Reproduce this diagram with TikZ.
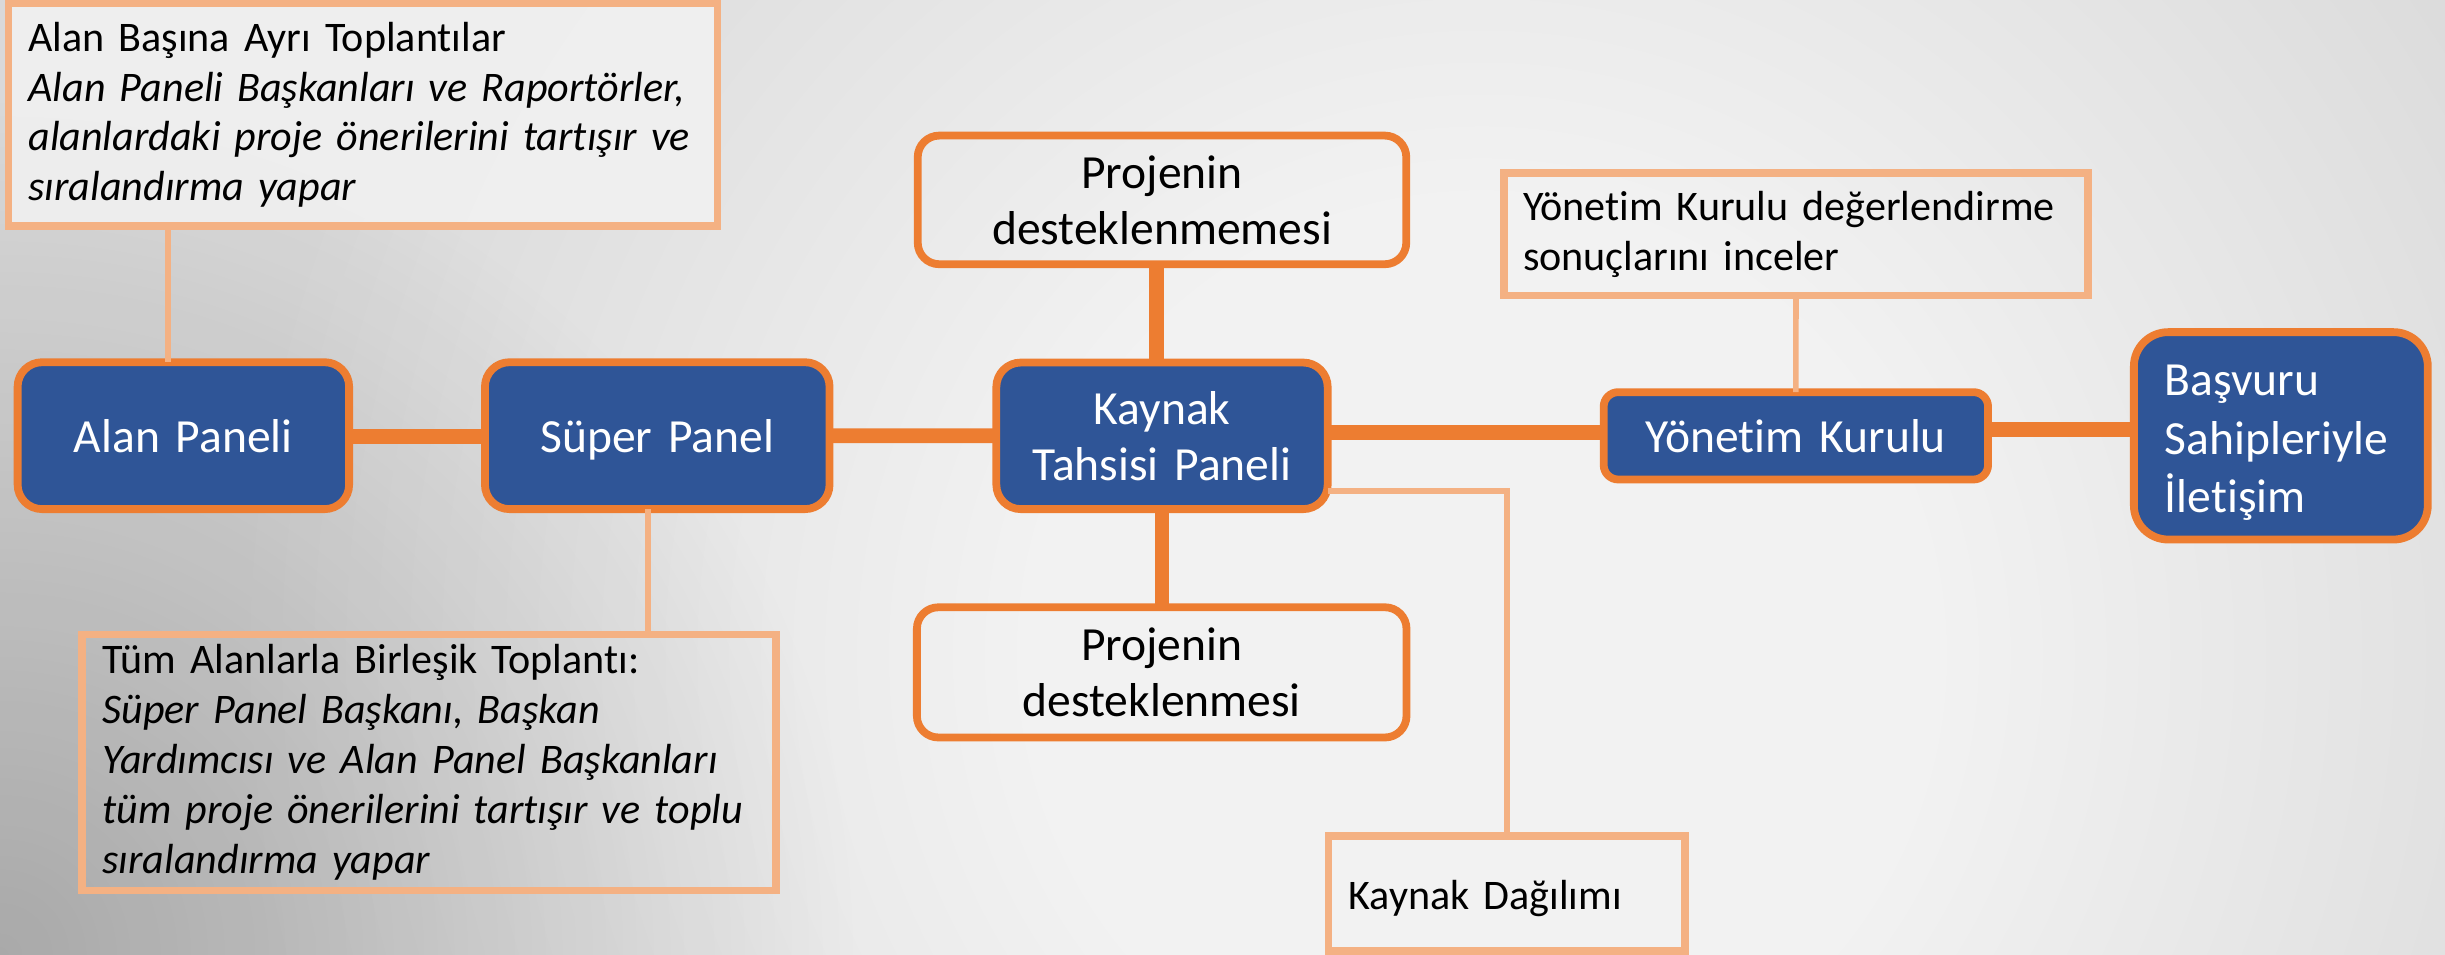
\documentclass[tikz,border=0pt]{standalone}
\usepackage{fontspec}
\setmainfont{Carlito}[Ligatures=CommonOff]
\usetikzlibrary{fadings}
\definecolor{nblue}{HTML}{2F5597}
\definecolor{norange}{HTML}{ED7D31}
\definecolor{lorange}{HTML}{F4B183}
\definecolor{bgin}{HTML}{F2F2F2}
\definecolor{bgout}{HTML}{D9D9D9}
\pgfdeclareradialshading{bgrad}{\pgfpointorigin}{color(0bp)=(bgin); color(9bp)=(bgin); color(25bp)=(bgout); color(50bp)=(bgout)}
\tikzfading[name=cornerfade, inner color=transparent!0, outer color=transparent!100]
\begin{document}
\begin{tikzpicture}[x=1pt,y=-1pt,
  bluebox/.style={draw=norange, line width=5pt, fill=nblue, text=white,
    font=\fontsize{30.5}{36}\selectfont, align=center, inner xsep=5pt, inner ysep=0pt, outer sep=0pt},
  whitebox/.style={draw=norange, line width=5pt, text=black,
    font=\fontsize{30.5}{36}\selectfont, align=center, inner xsep=5pt, inner ysep=0pt, outer sep=0pt},
  notebox/.style={draw=lorange, line width=4.8pt, text=black,
    font=\fontsize{27}{32}\selectfont, align=left, inner ysep=0pt, outer sep=0pt},
  oneline/.style={text height=21pt, text depth=0pt},
  thickline/.style={draw=norange, line width=9.4pt},
  thinline/.style={draw=lorange, line width=3.6pt}]

\useasboundingbox (0,0) rectangle (1568,612.4);
\begin{scope}
  \clip (0,0) rectangle (1568,612.4);
  \fill[bgout] (0,0) rectangle (1568,612.4);
  \shade[shading=bgrad] (950,420) circle [radius=800pt];
  \fill[black, fill opacity=0.22, path fading=cornerfade] (0,612.4) circle [radius=550pt];
\end{scope}

% annotation boxes
\node[notebox, fill=bgin, fill opacity=0.85, text opacity=1, inner xsep=12.9pt, text width=428.9pt, minimum width=454.7pt, minimum height=142.8pt]
  (tl) at (232.65,73.6) {\mbox{Alan Başına Ayrı Toplantılar}\\ \itshape \mbox{Alan Paneli Başkanları ve Raportörler,}\\ \mbox{alanlardaki proje önerilerini tartışır ve}\\ \mbox{sıralandırma yapar}};
\node[notebox, inner xsep=13.1pt, text width=418.7pt, minimum width=444.9pt, minimum height=164pt]
  (bl) at (275.05,489) {\mbox{Tüm Alanlarla Birleşik Toplantı:}\\ \itshape \mbox{Süper Panel Başkanı, Başkan}\\ \mbox{Yardımcısı ve Alan Panel Başkanları}\\ \mbox{tüm proje önerilerini tartışır ve toplu}\\ \mbox{sıralandırma yapar}};
\node[notebox, inner xsep=12.2pt, text width=350.1pt, minimum width=374.5pt, minimum height=78.5pt]
  (yk) at (1151.75,150.25) {\mbox{Yönetim Kurulu değerlendirme}\\ \mbox{sonuçlarını inceler}};
\node[notebox, oneline, inner xsep=12.8pt, text width=202.9pt, minimum width=228.5pt, minimum height=74pt]
  (kd) at (966.25,573) {Kaynak Dağılımı};

% main boxes
\node[bluebox, oneline, rounded corners=15.7pt, text width=202pt, minimum width=212.6pt, minimum height=94.2pt]
  (alan) at (117.6,279.4) {Alan Paneli};
\node[bluebox, oneline, rounded corners=15.7pt, text width=211pt, minimum width=221pt, minimum height=94.2pt]
  (super) at (421.5,279.4) {Süper Panel};
\node[bluebox, rounded corners=15.7pt, text width=202.5pt, minimum width=212.5pt, minimum height=94pt]
  (kaynak) at (745.2,279.5) {Kaynak\\Tahsisi Paneli};
\node[whitebox, rounded corners=13.8pt, text width=303.3pt, minimum width=313.3pt, minimum height=82.5pt]
  (proj1) at (745.2,128.2) {Projenin\\desteklenmemesi};
\node[whitebox, rounded corners=13.8pt, text width=304pt, minimum width=314pt, minimum height=83.5pt]
  (proj2) at (745,431.2) {Projenin\\desteklenmesi};
\node[bluebox, oneline, rounded corners=9.3pt, text width=236.5pt, minimum width=246.5pt, minimum height=56pt]
  (yon) at (1151.7,279.5) {Yönetim Kurulu};
\node[bluebox, align=left, font=\fontsize{30.5}{37.5}\selectfont, inner xsep=19.9pt, rounded corners=22pt, text width=148.7pt, minimum width=188.5pt, minimum height=133pt]
  (bas) at (1462.7,279.5) {\rule{0pt}{28.7pt}Başvuru\\Sahipleriyle\\İletişim};

% thick connectors
\draw[thickline] ([yshift=-0.6pt]alan.east) -- ([yshift=-0.6pt]super.west);
\draw[thickline] (super.east) -- (kaynak.west);
\draw[thickline] ([yshift=2pt]kaynak.east) -- ([yshift=2pt]yon.west);
\draw[thickline] ([yshift=4.2pt]yon.east) -- ([yshift=4.2pt]bas.west);
\draw[thickline] ([xshift=-3.7pt]proj1.south) -- ([xshift=-3.7pt]proj1.south |- kaynak.north);
\draw[thickline] (kaynak.south) -- (kaynak.south |- proj2.north);

% thin connectors
\coordinate (tlx) at (107.6,0);
\coordinate (blx) at (415.4,0);
\draw[thinline] (tl.south -| tlx) -- (alan.north -| tlx);
\draw[thinline] (super.south -| blx) -- (bl.north -| blx);
\draw[thinline] ([yshift=-35.5pt]kaynak.east) -| (kd.north);
\draw[thinline] (yon.north) -- (yk.south);
\end{tikzpicture}
\end{document}
